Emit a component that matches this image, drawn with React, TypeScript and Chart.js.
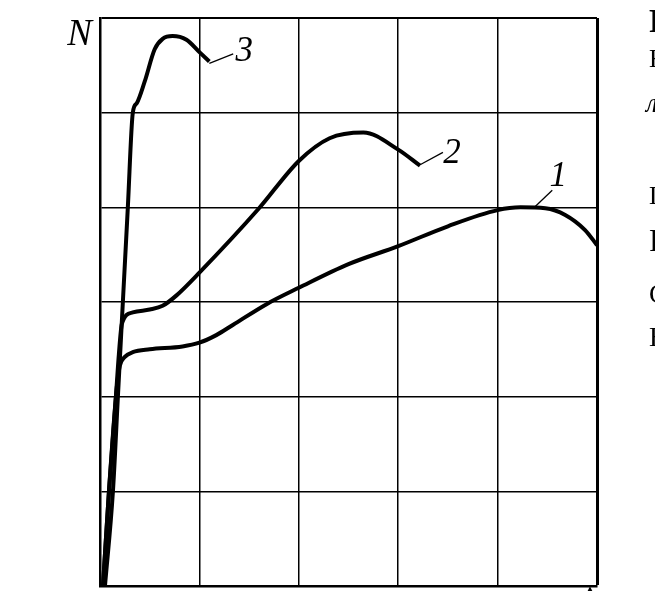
import React, { useEffect, useRef } from "react";
import { Chart, registerables } from "chart.js";

Chart.register(...registerables);

// Curve 1
const curve1X = [0.03, 0.09, 0.16, 0.18, 0.2, 0.25, 0.33, 0.5, 0.83, 1.0, 1.17, 1.34, 1.68, 2.0, 2.5, 3.0, 3.5, 4.0, 4.23, 4.48, 4.68, 4.88, 5.0];
const curve1Y = [0, 1.0, 2.0, 2.2, 2.33, 2.42, 2.47, 2.5, 2.53, 2.57, 2.65, 2.76, 2.98, 3.15, 3.4, 3.59, 3.8, 3.97, 4.0, 3.99, 3.92, 3.76, 3.6];
// Curve 2
const curve2X = [0.03, 0.09, 0.16, 0.19, 0.22, 0.33, 0.5, 0.63, 0.77, 1.0, 1.6, 2.0, 2.31, 2.65, 3.0, 3.22];
const curve2Y = [0, 1.0, 2.0, 2.45, 2.77, 2.89, 2.92, 2.96, 3.07, 3.31, 3.99, 4.49, 4.73, 4.79, 4.61, 4.44];
// Curve 3
const curve3X = [0.05, 0.13, 0.18, 0.23, 0.28, 0.33, 0.37, 0.45, 0.55, 0.63, 0.73, 0.87, 1.0, 1.1];
const curve3Y = [0, 1.0, 2.0, 3.0, 4.0, 5.0, 5.1, 5.33, 5.67, 5.78, 5.81, 5.77, 5.64, 5.54];

// Grid extents
const xMax = 5;
const yMax = 6;

// Labels (data units)
const labelTexts = ["N", "1", "2", "3"];
const labelX = [-0.33, 4.61, 3.54, 1.45];
const labelY = [5.71, 4.23, 4.47, 5.55];
const labelAlign = ["left", "center", "center", "center"];
// Leader lines (data units)
const leaderX1 = [4.36, 3.22, 1.1];
const leaderY1 = [3.99, 4.45, 5.52];
const leaderX2 = [4.55, 3.45, 1.34];
const leaderY2 = [4.18, 4.58, 5.62];

const pts = (xs: number[], ys: number[]) => xs.map((x, i) => ({ x, y: ys[i] }));

const labelPlugin = {
  id: "labels",
  afterDatasetsDraw(chart: any) {
    const { ctx, scales } = chart;
    const sx = scales.x, sy = scales.y;
    ctx.save();
    ctx.strokeStyle = "#000";
    ctx.lineWidth = 1.3;
    for (let i = 0; i < leaderX1.length; i++) {
      ctx.beginPath();
      ctx.moveTo(sx.getPixelForValue(leaderX1[i]), sy.getPixelForValue(leaderY1[i]));
      ctx.lineTo(sx.getPixelForValue(leaderX2[i]), sy.getPixelForValue(leaderY2[i]));
      ctx.stroke();
    }
    ctx.fillStyle = "#000";
    ctx.textBaseline = "alphabetic";
    for (let i = 0; i < labelTexts.length; i++) {
      ctx.font = `italic ${i === 0 ? 37 : 35}px "Liberation Serif", "DejaVu Serif", serif`;
      ctx.textAlign = labelAlign[i];
      ctx.fillText(labelTexts[i], sx.getPixelForValue(labelX[i]), sy.getPixelForValue(labelY[i]));
    }
    ctx.restore();
  },
};

export default function App() {
  const ref = useRef<HTMLCanvasElement | null>(null);
  useEffect(() => {
    if (!ref.current) return;
    const ds = (xs: number[], ys: number[]) => ({
      data: pts(xs, ys),
      borderColor: "#000",
      borderWidth: 4,
      pointRadius: 0,
      cubicInterpolationMode: "monotone" as const,
      borderJoinStyle: "round" as const,
      fill: false,
    });
    const chart = new Chart(ref.current, {
      type: "line",
      data: {
        datasets: [ds(curve1X, curve1Y), ds(curve2X, curve2Y), ds(curve3X, curve3Y)],
      },
      options: {
        animation: false,
        responsive: false,
        devicePixelRatio: 1,
        layout: { padding: { left: 100, right: 58, top: 18, bottom: 9 } },
        plugins: { legend: { display: false }, tooltip: { enabled: false } },
        scales: {
          x: {
            type: "linear",
            min: 0,
            max: xMax,
            ticks: { display: false, stepSize: 1 },
            grid: {
              color: "#000",
              drawTicks: false,
              lineWidth: (c: any) => (c.tick && c.tick.value === xMax ? 3 : 1.5),
            },
            border: { display: true, color: "#000", width: 2.5 },
          },
          y: {
            type: "linear",
            min: 0,
            max: yMax,
            ticks: { display: false, stepSize: 1 },
            grid: {
              color: "#000",
              drawTicks: false,
              lineWidth: (c: any) => (c.tick && c.tick.value === yMax ? 2 : 1.5),
            },
            border: { display: true, color: "#000", width: 2.5 },
          },
        },
      },
      plugins: [labelPlugin],
    });
    return () => chart.destroy();
  }, []);

  const frag = (text: string, top: number, size: number, extra: React.CSSProperties = {}) => (
    <span
      style={{
        position: "absolute",
        left: 649,
        top,
        fontSize: size,
        lineHeight: 1,
        fontFamily: '"Liberation Serif", serif',
        whiteSpace: "nowrap",
        color: "#000",
        ...extra,
      }}
    >
      {text}
    </span>
  );

  return (
    <div
      style={{
        position: "fixed",
        left: 0,
        top: 0,
        width: 655,
        height: 595,
        overflow: "hidden",
        background: "#fff",
      }}
    >
      <canvas ref={ref} width={655} height={595} style={{ position: "absolute", left: 0, top: 0 }} />
      {frag("Рис.", 4, 34, { fontWeight: "bold" })}
      {frag("Н", 46, 26)}
      {frag("л", 90, 27, { fontStyle: "italic", left: 646 })}
      {frag("П", 183, 26)}
      {frag("Р", 224, 32)}
      {frag("С", 281, 27)}
      {frag("Н", 323, 28)}
      <span style={{ position: "absolute", left: 586, top: 585, fontSize: 8, lineHeight: 1 }}>▲</span>
    </div>
  );
}
